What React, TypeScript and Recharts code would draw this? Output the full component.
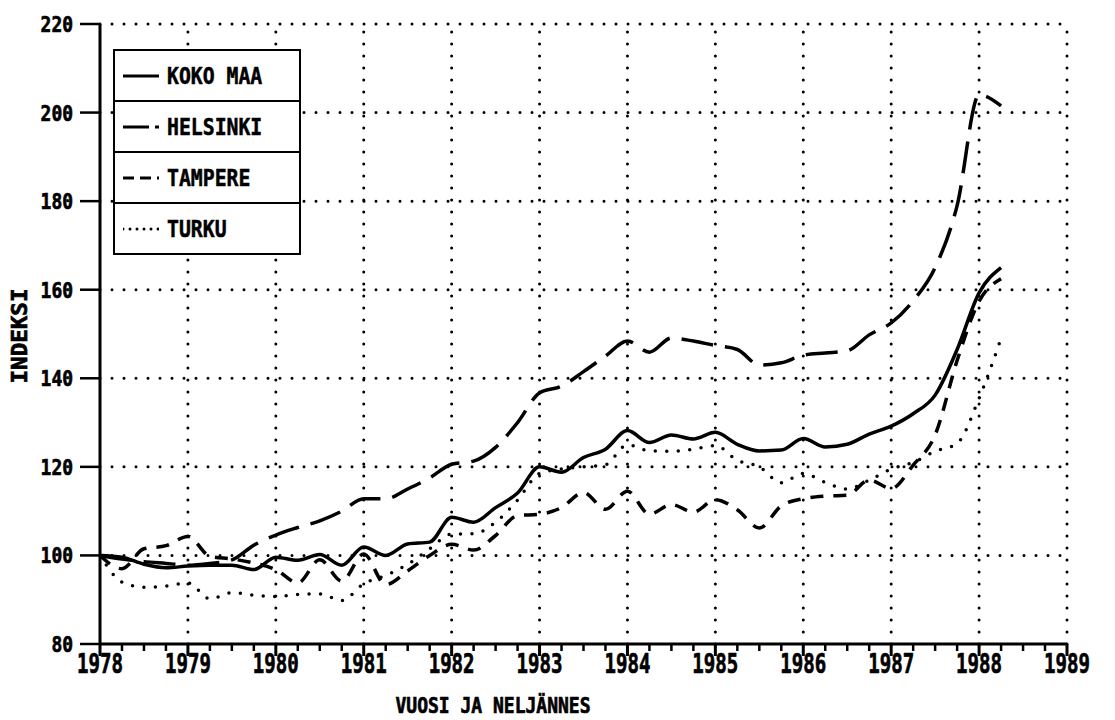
import React from "react";
import { LineChart, Line, XAxis, YAxis, ReferenceLine } from "recharts";

// quarterly index, 1978 = 100
const QUARTERS = [
  1978, 1978.25, 1978.5, 1978.75, 1979, 1979.25, 1979.5, 1979.75,
  1980, 1980.25, 1980.5, 1980.75, 1981, 1981.25, 1981.5, 1981.75,
  1982, 1982.25, 1982.5, 1982.75, 1983, 1983.25, 1983.5, 1983.75,
  1984, 1984.25, 1984.5, 1984.75, 1985, 1985.25, 1985.5, 1985.75,
  1986, 1986.25, 1986.5, 1986.75, 1987, 1987.25, 1987.5, 1987.75,
  1988, 1988.25,
];

const KOKO_MAA = [
  100, 99.6, 98.0, 97.2, 97.6, 97.8, 97.8, 96.8,
  99.6, 98.9, 100.2, 97.8, 101.9, 100.0, 102.6, 103.0,
  108.6, 107.5, 110.8, 114.1, 120.0, 118.8, 122.1, 124.0,
  128.2, 125.5, 127.2, 126.3, 127.8, 125.1, 123.6, 123.8,
  126.4, 124.5, 125.1, 127.4, 129.2, 132.0, 136.2, 146.5,
  159.3, 165.0,
];

const HELSINKI = [
  100, 99.2, 98.6, 98.2, 97.8, 98.2, 99.0, 102.3,
  104.6, 106.3, 107.8, 110.0, 112.8, 112.8, 115.0, 117.5,
  120.6, 121.3, 124.4, 130.0, 136.7, 138.2, 141.5, 145.0,
  148.4, 145.9, 149.1, 148.4, 147.4, 146.5, 143.0, 143.5,
  145.2, 145.7, 146.2, 149.8, 152.5, 157.5, 165.0, 179.0,
  204.0, 201.5,
];

const TAMPERE = [
  100, 97.0, 101.5, 102.2, 104.3, 99.8, 99.2, 98.3,
  96.8, 93.8, 99.0, 94.2, 100.3, 93.4, 96.5, 100.0,
  102.5, 101.2, 104.5, 109.0, 109.3, 110.8, 114.2, 110.4,
  114.5, 109.3, 111.5, 109.8, 112.6, 110.3, 106.2, 111.2,
  112.8, 113.4, 113.6, 117.0, 115.1, 120.4, 127.2, 144.0,
  157.4, 162.5,
];

const TURKU = [
  100, 94.0, 92.8, 93.1, 93.8, 90.2, 91.6, 91.0,
  90.7, 91.2, 91.3, 89.8, 93.6, 95.5, 98.0, 101.5,
  104.8, 104.9, 107.5, 112.5, 118.5, 119.5, 120.0, 120.5,
  125.0, 123.6, 123.5, 124.0, 124.8, 121.5, 120.0, 116.4,
  118.5, 116.5, 115.0, 117.0, 119.5, 121.0, 123.5, 125.3,
  135.5, 149.0,
];

const YEAR_TICKS = [1978, 1979, 1980, 1981, 1982, 1983, 1984, 1985, 1986, 1987, 1988, 1989];
const Y_TICKS = [80, 100, 120, 140, 160, 180, 200, 220];
const X_TITLE = "VUOSI JA NELJÄNNES";
const Y_TITLE = "INDEKSI";

const SERIES = [
  { key: "kokoMaa", name: "KOKO MAA", values: KOKO_MAA, dash: undefined, legendDash: undefined, cap: "butt" },
  { key: "helsinki", name: "HELSINKI", values: HELSINKI, dash: "32 12", legendDash: "26 6", cap: "butt" },
  { key: "tampere", name: "TAMPERE", values: TAMPERE, dash: "13 10", legendDash: "11 6", cap: "butt" },
  { key: "turku", name: "TURKU", values: TURKU, dash: "0 11.5", legendDash: "0 7", cap: "round" },
];

const data = QUARTERS.map((t, i) => {
  const row: Record<string, number> = { t };
  SERIES.forEach((s) => (row[s.key] = s.values[i]));
  return row;
});

// quarter marks between the years
const MINOR_TICKS = YEAR_TICKS.flatMap((y) =>
  y === 1989 ? [y] : [y, y + 0.25, y + 0.5, y + 0.75]
);

const FONT = "'DejaVu Sans Mono', monospace";
const TXT = { fontFamily: FONT, fontWeight: "bold", fill: "#000", stroke: "#000", strokeWidth: 0.7 } as const;

function XTick({ x, y, payload }: any) {
  const major = Number.isInteger(payload.value);
  return (
    <g>
      <line x1={x} x2={x} y1={y} y2={y + (major ? 12 : 7)} stroke="#000" strokeWidth={major ? 3 : 2.5} />
      {major && (
        <text x={x} y={y + 29} textAnchor="middle" fontSize={26} textLength={46} lengthAdjust="spacingAndGlyphs" {...TXT}>
          {payload.value}
        </text>
      )}
    </g>
  );
}

function YTick({ x, y, payload }: any) {
  const label = String(payload.value);
  return (
    <g>
      <line x1={x - 20} x2={x} y1={y} y2={y} stroke="#000" strokeWidth={2.5} />
      <text
        x={x - 27}
        y={y + 8}
        textAnchor="end"
        fontSize={22}
        textLength={label.length * 10.8}
        lengthAdjust="spacingAndGlyphs"
        {...TXT}
      >
        {label}
      </text>
    </g>
  );
}

function LegendBox() {
  return (
    <div
      style={{
        position: "absolute",
        left: 113,
        top: 49,
        width: 184,
        border: "2.5px solid #000",
        background: "#fff",
        fontFamily: FONT,
        fontWeight: "bold",
        fontSize: 23,
        color: "#000",
        WebkitTextStroke: "0.5px #000",
      }}
    >
      {SERIES.map((s, i) => (
        <div
          key={s.key}
          style={{
            height: 49,
            display: "flex",
            alignItems: "center",
            borderTop: i ? "2.5px solid #000" : "none",
          }}
        >
          <svg width={36} height={10} style={{ marginLeft: 8 }}>
            <line
              x1={0}
              x2={36}
              y1={5}
              y2={5}
              stroke="#000"
              strokeWidth={3}
              strokeDasharray={s.legendDash}
              strokeLinecap={s.cap as any}
            />
          </svg>
          <span style={{ marginLeft: 8, display: "inline-block", transform: "scaleX(0.86)", transformOrigin: "left center" }}>
            {s.name}
          </span>
        </div>
      ))}
    </div>
  );
}

export default function App() {
  return (
    <div style={{ position: "fixed", left: 0, top: 0, width: 1115, height: 720, background: "#fff" }}>
      <LineChart width={1115} height={720} data={data} margin={{ top: 24, right: 48, left: 0, bottom: 0 }}>
        <XAxis
          dataKey="t"
          type="number"
          domain={[1978, 1989]}
          ticks={MINOR_TICKS}
          interval={0}
          height={76}
          tickSize={0}
          tickMargin={0}
          tickLine={false}
          axisLine={{ stroke: "#000", strokeWidth: 3 }}
          tick={(p: any) => <XTick {...p} />}
        />
        <YAxis
          type="number"
          domain={[80, 220]}
          ticks={Y_TICKS}
          interval={0}
          width={100}
          tickSize={0}
          tickMargin={0}
          tickLine={false}
          axisLine={{ stroke: "#000", strokeWidth: 3 }}
          tick={(p: any) => <YTick {...p} />}
        />
        {YEAR_TICKS.slice(1).map((yr) => (
          <ReferenceLine
            key={"x" + yr}
            x={yr}
            stroke="#000"
            strokeWidth={3}
            strokeDasharray="0 12"
            strokeLinecap="round"
          />
        ))}
        {Y_TICKS.slice(1).map((v) => (
          <ReferenceLine
            key={"y" + v}
            y={v}
            stroke="#000"
            strokeWidth={3}
            strokeDasharray="0 12"
            strokeLinecap="round"
          />
        ))}
        {SERIES.map((s) => (
          <Line
            key={s.key}
            dataKey={s.key}
            name={s.name}
            type="monotone"
            stroke="#000"
            strokeWidth={3.5}
            strokeDasharray={s.dash}
            strokeLinecap={s.cap as any}
            dot={false}
            activeDot={false}
            isAnimationActive={false}
          />
        ))}
      </LineChart>
      <svg width={1115} height={720} style={{ position: "absolute", left: 0, top: 0, pointerEvents: "none" }}>
        <text x={493} y={713} textAnchor="middle" fontSize={22} textLength={195} lengthAdjust="spacingAndGlyphs" {...TXT}>
          {X_TITLE}
        </text>
        <text
          x={27}
          y={336}
          transform="rotate(-90 27 336)"
          textAnchor="middle"
          fontSize={21}
          textLength={95}
          lengthAdjust="spacingAndGlyphs"
          {...TXT}
        >
          {Y_TITLE}
        </text>
      </svg>
      <LegendBox />
    </div>
  );
}
